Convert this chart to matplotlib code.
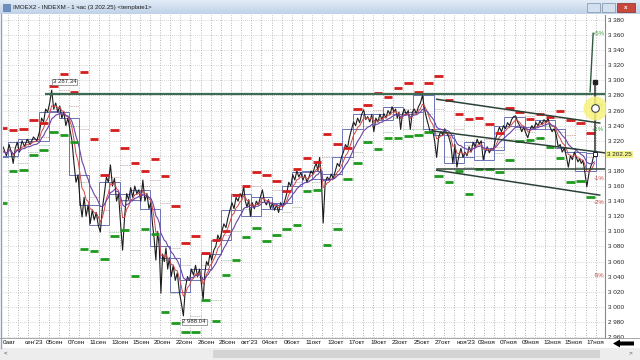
import numpy as np
import pandas as pd
import matplotlib
matplotlib.use('Agg')
import matplotlib.pyplot as plt
from matplotlib.patches import Rectangle, Polygon
from matplotlib.colors import LinearSegmentedColormap
from matplotlib.ticker import FuncFormatter

plt.rcParams['font.family'] = ['Liberation Sans', 'DejaVu Sans']

title = 'IMOEX2 - INDEXM - 1 час (3 202.25) <template1>'
last_price = 3202.25

# hourly closes (sampled), one list per trading day
day_prices = [
    [3198, 3212, 3200],
    [3215, 3205, 3190, 3210, 3218],
    [3205, 3220, 3212, 3222],
    [3215, 3225, 3220],
    [3232, 3250, 3245, 3262, 3258],
    [3270, 3287, 3262, 3270, 3258],
    [3266, 3250, 3258, 3240, 3250],
    [3235, 3220, 3190, 3165, 3175],
    [3140, 3119, 3145, 3120, 3135],
    [3110, 3128, 3115, 3125, 3108],
    [3099, 3130, 3150, 3172, 3165],
    [3188, 3160, 3170, 3140, 3150],
    [3110, 3075, 3120, 3150, 3142],
    [3158, 3145, 3160, 3150, 3155],
    [3140, 3168, 3140, 3150, 3130],
    [3138, 3110, 3090, 3062, 3100, 3080],
    [3018, 3070, 3060, 3078, 3050, 3065],
    [3040, 3055, 3035, 3045, 3020],
    [3005, 2988, 3025, 3040, 3035],
    [3050, 3042, 3055, 3040, 3050],
    [3030, 3009, 3045, 3060, 3055, 3070],
    [3062, 3075, 3080, 3095, 3088],
    [3100, 3110, 3105, 3118, 3128],
    [3138, 3130, 3145, 3140, 3150],
    [3145, 3160, 3140, 3132, 3142, 3120],
    [3138, 3130, 3140, 3135, 3145],
    [3155, 3140, 3135, 3142, 3130],
    [3138, 3128, 3135, 3125, 3138],
    [3132, 3140, 3150, 3165, 3160],
    [3175, 3168, 3180, 3172, 3178],
    [3168, 3175, 3165, 3172, 3180],
    [3176, 3185, 3190, 3180, 3198, 3170],
    [3111, 3165, 3172, 3168, 3176],
    [3170, 3180, 3190, 3186, 3198],
    [3205, 3215, 3210, 3225, 3235],
    [3245, 3240, 3250, 3244, 3255],
    [3261, 3248, 3252, 3245, 3255],
    [3232, 3250, 3245, 3255, 3248],
    [3256, 3250, 3260, 3255, 3265],
    [3258, 3262, 3250, 3258, 3235, 3255],
    [3262, 3255, 3260, 3235, 3258],
    [3262, 3256, 3265, 3270, 3280],
    [3262, 3250, 3240, 3230, 3235],
    [3220, 3198, 3225, 3232, 3228],
    [3236, 3230, 3225, 3215, 3190],
    [3215, 3185, 3200, 3210, 3198],
    [3205, 3200, 3212, 3205, 3218],
    [3212, 3222, 3215, 3220, 3195],
    [3205, 3212, 3204, 3210, 3208],
    [3222, 3230, 3238, 3232, 3240],
    [3236, 3244, 3240, 3248, 3252],
    [3253, 3245, 3240, 3232, 3238],
    [3230, 3224, 3234, 3240, 3236],
    [3244, 3240, 3246, 3242, 3248],
    [3244, 3250, 3238, 3232, 3236],
    [3228, 3212, 3215, 3205, 3210],
    [3200, 3185, 3200, 3195, 3205],
    [3198, 3192, 3196, 3190, 3194, 3180],
    [3159, 3180, 3190, 3204],
]

res_levels = [3237, 3234, 3236, 3247, 3244, 3292, 3308, 3285, 3311, 3222,
              3175, 3234, 3211, 3191, 3180, 3196, 3173, 3133, 3084, 3094,
              3071, 3088, 3100, 3148, 3160, 3178, 3174, 3167, 3153, 3183,
              3197, 3192, 3229, 3216, 3211, 3262, 3268, 3283, 3278, 3290,
              3297, 3285, 3296, 3306, 3274, 3255, 3249, 3250, 3242, 3230,
              3264, 3258, 3249, 3255, 3252, 3260, 3247, 3244, 3230]
sup_levels = [3138, 3180, 3181, 3201, 3208, 3232, 3228, 3218, 3077, 3074,
              3063, 3094, 3102, 3041, 3103, 3097, 2993, 2979, 2967, 2967,
              3009, 2981, 3042, 3062, 3093, 3104, 3087, 3095, 3103, 3108,
              3153, 3155, 3082, 3103, 3170, 3191, 3219, 3209, 3223, 3223,
              3226, 3228, 3231, 3173, 3165, 3180, 3149, 3183, 3182, 3178,
              3195, 3220, 3221, 3223, 3212, 3197, 3166, 3167, 3145]

date_labels = ['0авг', "сен'23", '05сен', '07сен', '11сен', '13сен', '15сен',
               '20сен', '22сен', '26сен', '28сен', "окт'23", '04окт', '06окт',
               '11окт', '13окт', '17окт', '19окт', '23окт', '25окт', '27окт',
               "ноя'23", '03ноя', '07ноя', '09ноя', '13ноя', '15ноя', '17ноя']

resist_level = 3282
resist_start = 4.64
peak_text, low_text = '3 287.34', '2 988.04'
pct_steps = [5, 2, 1, -1, -2, -5]
channel_lines = [
    ((43.3, 3275), (59.4, 3243.5)),
    ((42.9, 3233), (59.9, 3204)),
    ((43.3, 3182.5), (59.9, 3182.5)),
    ((43.3, 3181), (59.4, 3148)),
]
target_top = 3298
signal_level = 3263

W, H = 640, 360
DAY_PX = 10.13


def fx(x):
    return x / W


def fy(y):
    return 1 - y / H


fig = plt.figure(figsize=(6.4, 3.6), dpi=100)
fig.patch.set_facecolor('white')

ax = fig.add_axes([fx(3), fy(338), fx(605) - fx(3), fy(15) - fy(338)])
ax.set_xlim(5 / DAY_PX, 607 / DAY_PX)
ax.set_ylim(2958.7, 3386.6)

# grid
for k in range(61):
    ax.axvline(k, color='#9c9c9c', lw=0.6, ls=(0, (1, 2)), zorder=0)
ticks = list(range(2960, 3381, 20))
for t in ticks:
    ax.axhline(t, color='#b4b4b4', lw=0.5, ls=(0, (1, 2)), zorder=0)

# price series
xs, ps = [], []
for k, day in enumerate(day_prices):
    n = len(day)
    for j, p in enumerate(day):
        xs.append(k + (j + 0.5) / n)
        ps.append(p)
xs = np.array(xs)
ps = np.array(ps, dtype=float)

# previous-day high / low dotted steps
for k in range(1, len(day_prices)):
    hi = max(day_prices[k - 1])
    lo = min(day_prices[k - 1])
    ax.hlines(hi, k, k + 1, color='#b07a7a', lw=0.6, ls=(0, (1, 1.5)), zorder=1)
    ax.hlines(lo, k, k + 1, color='#7aa07a', lw=0.6, ls=(0, (1, 1.5)), zorder=1)

# daily bodies
prev_close = day_prices[0][0]
for k, day in enumerate(day_prices):
    o, c = prev_close, day[-1]
    ax.add_patch(Rectangle((k, min(o, c)), 1, max(abs(c - o), 1),
                           fill=False, ec='#6c74b6', lw=0.7, zorder=2))
    prev_close = c

ax.plot(xs, ps, color='#1c1c1c', lw=0.8, zorder=3)
ema_fast = pd.Series(ps).ewm(span=5).mean()
ema_slow = pd.Series(ps).ewm(span=12).mean()
ax.plot(xs, ema_fast, color='#d04848', lw=0.7, zorder=4)
ax.plot(xs, ema_slow, color='#6a44a8', lw=0.8, zorder=4)

# daily levels
days = np.arange(len(res_levels))
ax.hlines(res_levels, days + 0.08, days + 0.92, color='#d41e1e', lw=2.0, zorder=5)
ax.hlines(sup_levels, days + 0.08, days + 0.92, color='#1e9a1e', lw=2.0, zorder=5)

# resistance line and channel
ax.hlines(resist_level, resist_start, 60, color='#3e6c52', lw=1.6, zorder=6)
for (x0, y0), (x1, y1) in channel_lines:
    ax.plot([x0, x1], [y0, y1], color='#2c4236', lw=1.1, zorder=6)

# min / max labels
i_max, i_min = int(np.argmax(ps)), int(np.argmin(ps))
ax.text(xs[i_max] + 0.1, ps[i_max] + 11, peak_text, fontsize=4.3, va='center',
        ha='left', color='#222', zorder=8,
        bbox=dict(fc='white', ec='#777', lw=0.5, pad=0.6))
ax.text(xs[i_min] - 0.1, ps[i_min] - 8, low_text, fontsize=4.3, va='center',
        ha='left', color='#222', zorder=8,
        bbox=dict(fc='white', ec='#777', lw=0.5, pad=0.6))

# current bar, target line and signal circle
xc = 58.95
ax.plot([xc, xc], [last_price, target_top], color='#333', lw=1.1, zorder=7)
ax.plot([xc], [target_top], marker='s', ms=2.5, color='#222', zorder=7)
ax.plot([xc], [last_price], marker='s', ms=3, mfc='white', mec='#222', mew=0.7, zorder=7)
ax.plot([58.45, 58.75], [3285, last_price * 1.05], color='#2d5a3d', lw=1.0, zorder=7)

for s in pct_steps:
    lvl = last_price * (1 + s / 100)
    col = '#3a9a3a' if s > 0 else '#c04040'
    ax.text(59.85, lvl, f'{s:+d}%', fontsize=4.3, color=col, ha='right',
            va='center', zorder=6)

ax.scatter([xc], [signal_level], s=300, color='#f6f27a', alpha=0.85, lw=0, zorder=8)
ax.scatter([xc], [signal_level], s=30, fc='white', ec='#444', lw=0.8, zorder=9)

# axes styling
ax.yaxis.tick_right()
ax.set_yticks(ticks)
ax.yaxis.set_major_formatter(FuncFormatter(
    lambda v, _: '' if int(v) == 3200 else f'{int(v) // 1000} {int(v) % 1000:03d}'))
ax.tick_params(axis='y', length=0, pad=2, labelsize=4.6, labelcolor='#222')
ax.set_xticks([])
for side in ['top', 'bottom', 'left']:
    ax.spines[side].set_visible(False)
ax.spines['right'].set_color('#8a8a8a')
ax.spines['right'].set_linewidth(0.8)

ax.text(1 + 2 / 602, last_price, '3 202.25', transform=ax.get_yaxis_transform(),
        fontsize=4.6, va='center', ha='left', color='#222', zorder=10, clip_on=False,
        bbox=dict(fc='#f2f28e', ec='none', pad=0.7))

# date labels
step = 21.6 / DAY_PX
x_first = 5 / DAY_PX
for i, lab in enumerate(date_labels):
    ax.text(x_first + i * step, -5 / 323, lab, transform=ax.get_xaxis_transform(),
            fontsize=4.6, ha='left', va='center', color='#111', clip_on=False)

# window chrome
fig.add_artist(plt.Line2D([0, 1], [fy(338), fy(338)], color='#9a9a9a', lw=0.6))
fig.add_artist(plt.Line2D([fx(1), fx(1)], [fy(348), fy(14)], color='#8aa0c0', lw=1.0))

tb = fig.add_axes([0, fy(14), 1, 14 / H])
grad = np.linspace(0, 1, 50).reshape(-1, 1)
cmap = LinearSegmentedColormap.from_list('tb', ['#e2ecf7', '#bfd2e8'])
tb.imshow(grad, aspect='auto', cmap=cmap, extent=[0, 1, 0, 1])
tb.set_xlim(0, 1)
tb.set_ylim(0, 1)
tb.axis('off')
tb.text(fx(13), 0.5, title, fontsize=4.4, va='center', ha='left', color='#1a1a1a')
tb.add_patch(Rectangle((fx(3), 0.25), fx(7), 0.5, fc='#6d8fc0', ec='#4a6a9a', lw=0.4))
tb.add_patch(Rectangle((fx(587), 0.12), fx(13), 0.65, fc='#d4e0ee', ec='#7d8fa8', lw=0.5))
tb.add_patch(Rectangle((fx(602), 0.12), fx(13), 0.65, fc='#d4e0ee', ec='#7d8fa8', lw=0.5))
tb.add_patch(Rectangle((fx(617), 0.12), fx(18), 0.65, fc='#c9483c', ec='#8a2a22', lw=0.5))
tb.text(fx(626), 0.45, 'x', fontsize=4.5, color='white', ha='center', va='center',
        fontweight='bold')

# scrollbar
fig.add_artist(Rectangle((0, 0), 1, fy(348), transform=fig.transFigure,
                         fc='#ededed', ec='none'))
fig.add_artist(Rectangle((fx(213), fy(358)), fx(600) - fx(213), 8 / H,
                         transform=fig.transFigure, fc='#d4d4d4', ec='none'))
fig.text(fx(6), fy(353), '<', fontsize=4.5, va='center', ha='center', color='#444')
fig.text(fx(630), fy(353), '>', fontsize=4.5, va='center', ha='center', color='#444')

# black arrow button
fig.add_artist(Polygon([(fx(613), fy(343.5)), (fx(620), fy(339.5)), (fx(620), fy(341.5)),
                        (fx(634), fy(341.5)), (fx(634), fy(345.5)), (fx(620), fy(345.5)),
                        (fx(620), fy(347.5))], closed=True, transform=fig.transFigure,
                       fc='black', ec='none'))

fig.savefig('out.png', dpi=100)
